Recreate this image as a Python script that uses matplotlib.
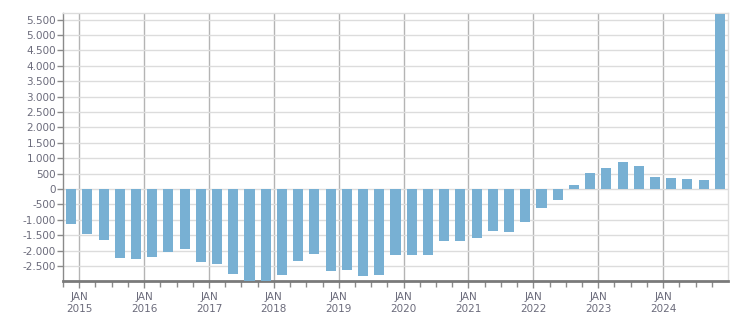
import matplotlib
matplotlib.use("Agg")
import matplotlib.pyplot as plt
import matplotlib.ticker as mticker
import numpy as np

# Quarterly values, Q4 2014 .. Q4 2024
quarters = ["2014Q4",
            "2015Q1", "2015Q2", "2015Q3", "2015Q4",
            "2016Q1", "2016Q2", "2016Q3", "2016Q4",
            "2017Q1", "2017Q2", "2017Q3", "2017Q4",
            "2018Q1", "2018Q2", "2018Q3", "2018Q4",
            "2019Q1", "2019Q2", "2019Q3", "2019Q4",
            "2020Q1", "2020Q2", "2020Q3", "2020Q4",
            "2021Q1", "2021Q2", "2021Q3", "2021Q4",
            "2022Q1", "2022Q2", "2022Q3", "2022Q4",
            "2023Q1", "2023Q2", "2023Q3", "2023Q4",
            "2024Q1", "2024Q2", "2024Q3", "2024Q4"]
values = [-1140,
          -1470, -1660, -2250, -2280,
          -2220, -2050, -1960, -2380,
          -2450, -2770, -3050, -3050,
          -2800, -2340, -2120, -2660,
          -2630, -2840, -2800, -2140,
          -2140, -2140, -1690, -1690,
          -1600, -1355, -1385, -1090,
          -605, -346, 130, 519,
          681, 875, 756, 389,
          357, 324, 292, 5680]
year_labels = ["JAN\n2015", "JAN\n2016", "JAN\n2017", "JAN\n2018", "JAN\n2019",
               "JAN\n2020", "JAN\n2021", "JAN\n2022", "JAN\n2023", "JAN\n2024"]
year_ticks = [2015, 2016, 2017, 2018, 2019, 2020, 2021, 2022, 2023, 2024]

# quarter midpoints in fractional years
xpos = [int(q[:4]) + (int(q[5]) - 1) * 0.25 + 0.125 for q in quarters]

text_color = "#6b6b7b"
bar_color = "#78b0d3"

fig = plt.figure(figsize=(7.51, 3.13), dpi=100)
ax = fig.add_axes([63 / 751, 1 - 281 / 313, (728 - 63) / 751, (281 - 13) / 313])

ax.bar(xpos, values, width=0.155, color=bar_color, zorder=3)

ax.set_xlim(2014.75, 2025.0)
ax.set_ylim(-2990, 5712)

ax.yaxis.set_major_locator(mticker.MultipleLocator(500))
ax.yaxis.set_major_formatter(mticker.FuncFormatter(lambda v, p: f"{int(round(v)):,}".replace(",", ".")))
ax.set_xticks(year_ticks)
ax.set_xticklabels(year_labels)
ax.set_xticks([y + q for y in range(2014, 2025) for q in (0.25, 0.5, 0.75) if 2014.75 <= y + q < 2025], minor=True)

ax.grid(axis="y", color="#dcdcdc", linewidth=1, zorder=0)
ax.grid(axis="x", which="major", color="#b4b4b4", linewidth=1, zorder=0)

for s in ("top", "right"):
    ax.spines[s].set_color("#dcdcdc")
    ax.spines[s].set_linewidth(1)
ax.spines["left"].set_color("#8a8a8a")
ax.spines["left"].set_linewidth(1)
ax.spines["bottom"].set_color("#7a7a7a")
ax.spines["bottom"].set_linewidth(2)

ax.tick_params(axis="y", direction="out", length=4, width=1, color="#8a8a8a",
               labelsize=7.5, labelcolor=text_color, pad=1)
ax.tick_params(axis="x", which="major", direction="out", length=5, width=1, color="#8a8a8a",
               labelsize=7.5, labelcolor=text_color, pad=3)
ax.tick_params(axis="x", which="minor", direction="out", length=4, width=1, color="#8a8a8a")
for lab in ax.get_xticklabels():
    lab.set_linespacing(1.25)

fig.savefig("out.png", dpi=100)
